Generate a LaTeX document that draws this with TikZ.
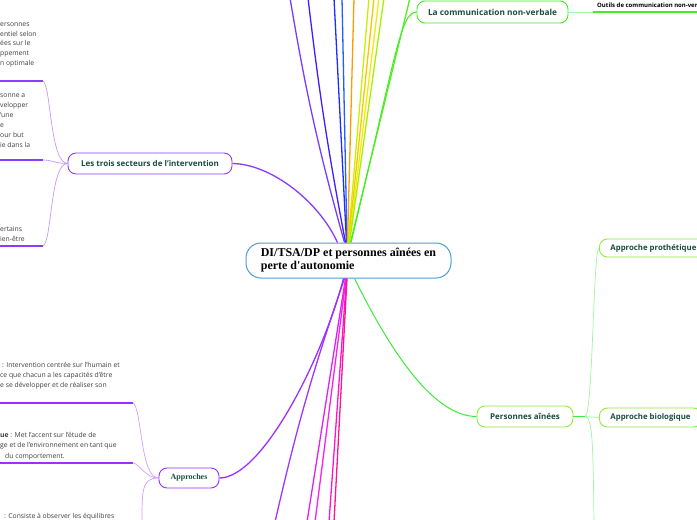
\documentclass[tikz,border=0pt]{standalone}
\usepackage{fontspec}
\setmainfont{Open Sans}
\newfontfamily\serifb{Liberation Serif}
\definecolor{cblue}{HTML}{4A9FDB}
\definecolor{labc}{HTML}{1B4D3E}
\definecolor{fragc}{HTML}{404040}
\definecolor{P1}{HTML}{8A3CFF}
\definecolor{P1l}{HTML}{C39BFF}
\definecolor{P2}{HTML}{9B30FF}
\definecolor{P2l}{HTML}{D49CFF}
\definecolor{GB}{HTML}{3CEB3C}
\definecolor{GY}{HTML}{8FEB3C}
\definecolor{GL}{HTML}{A0F5A0}
\definecolor{GC}{HTML}{44EE22}
\definecolor{T1}{HTML}{7A3DFF}
\definecolor{T2}{HTML}{3D1FFF}
\definecolor{T3}{HTML}{1F2BFF}
\definecolor{T4}{HTML}{1F5FFF}
\definecolor{T5}{HTML}{FF9A00}
\definecolor{T6}{HTML}{C8F000}
\definecolor{T7}{HTML}{FFC400}
\definecolor{T8}{HTML}{EEEE00}
\definecolor{T9}{HTML}{A8F000}
\definecolor{T10}{HTML}{55EE22}
\definecolor{B1}{HTML}{A035FF}
\definecolor{B2}{HTML}{E020F5}
\definecolor{B3}{HTML}{F522F0}
\definecolor{B4}{HTML}{FF14C8}
\definecolor{B5}{HTML}{FF1490}
\begin{document}
\begin{tikzpicture}[x=1pt,y=-1pt,
  lbl/.style={draw, rounded corners=8pt, fill=white, line width=0.9pt, text=labc, inner sep=0pt, font=\bfseries\fontsize{8}{9}\selectfont},
  frag/.style={anchor=base west, inner sep=0pt, text=fragc, font=\fontsize{6.8}{8}\selectfont},
  br/.style={line width=1.3pt},
  thinc/.style={line width=0.7pt},
  ul/.style={line width=1.8pt},
]
\useasboundingbox[fill=white] (0,0) rectangle (697,520);

% central node
\node[draw=cblue, line width=1pt, rounded corners=15pt, fill=white, align=left, inner sep=0pt,
      minimum width=205pt, minimum height=35pt, text=black,
      font=\serifb\bfseries\fontsize{12}{13}\selectfont] (c) at (348.5,260.5)
      {DI/TSA/DP et personnes aînées en\\perte d'autonomie};

% main topic nodes
\node[lbl, draw=P1, minimum width=164pt, minimum height=21pt] (lt) at (150,163.5) {Les trois secteurs de l'intervention};
\node[lbl, draw=GC, minimum width=151pt, minimum height=22pt, font=\bfseries\fontsize{8.3}{9}\selectfont] (lc) at (492.5,12) {La communication non-verbale};
\node[lbl, draw=P2, minimum width=60pt, minimum height=20pt, font=\serifb\bfseries\fontsize{8}{9}\selectfont] (ap) at (189,478) {Approches};
\node[lbl, draw=GY, minimum width=96pt, minimum height=21pt] (pa) at (525,416.5) {Personnes aînées};
\node[lbl, draw=GY, anchor=west, inner xsep=11pt, minimum height=18pt, font=\bfseries\fontsize{7.8}{9}\selectfont] (pp) at (599,248) {Approche prothétique};
\node[lbl, draw=GY, anchor=west, inner xsep=11pt, minimum height=19pt, font=\bfseries\fontsize{7.8}{9}\selectfont] (pb) at (599,417.5) {Approche biologique};
\node[anchor=base west, inner sep=0pt, font=\bfseries\fontsize{6}{7}\selectfont] (ou) at (597,7.5) {Outils de communication non-verbale};

% free ends
\coordinate (t1) at (290,-2);  \coordinate (t2) at (308,-2);
\coordinate (t3) at (334,-2);  \coordinate (t4) at (342,-2);
\coordinate (t5) at (354,-2);  \coordinate (t6) at (369,-2);
\coordinate (t7) at (374,-2);  \coordinate (t8) at (379,-2);
\coordinate (t9) at (384,-2);  \coordinate (t10) at (410,-2);
\coordinate (b1) at (275,522); \coordinate (b2) at (307,522);
\coordinate (b3) at (315,522); \coordinate (b4) at (329,522);
\coordinate (b5) at (334,522);

% top branches
\draw[br, T1] ([xshift=-4pt]c.north) to[bend left=3] (t1);
\draw[br, T2] ([xshift=-3pt]c.north) to[bend left=2] (t2);
\draw[br, T3] ([xshift=-2pt]c.north) -- (t3);
\draw[br, T4] ([xshift=-1.5pt]c.north) -- (t4);
\draw[br, T5] ([xshift=-1pt]c.north) -- (t5);
\draw[br, T6] ([xshift=-0.5pt]c.north) -- (t6);
\draw[br, T7] (c.north) -- (t7);
\draw[br, T8] ([xshift=0.5pt]c.north) -- (t8);
\draw[br, T9] ([xshift=1pt]c.north) -- (t9);
\draw[br, T10] ([xshift=2pt]c.north) -- (t10);
\draw[line width=1pt, GC] ([xshift=2.5pt]c.north) .. controls (395,60) and (400,12) .. (lc.west);

% bottom branches
\draw[br, B1] ([xshift=-4pt]c.south) to[bend right=3] (b1);
\draw[br, B2] ([xshift=-3pt]c.south) -- (b2);
\draw[br, B3] ([xshift=-2.5pt]c.south) -- (b3);
\draw[br, B4] ([xshift=-2pt]c.south) -- (b4);
\draw[br, B5] ([xshift=-1.5pt]c.south) -- (b5);

% curved topic branches
\draw[br, P1] ([xshift=-11pt]c.north) .. controls (318,200) and (270,164) .. (lt.east);
\draw[br, P2] ([xshift=-5pt]c.south) .. controls (322,360) and (262,478) .. (ap.east);
\draw[line width=1pt, GB] ([xshift=6pt]c.south) .. controls (385,340) and (430,416.5) .. (pa.west);

% --- Les trois secteurs children
\coordinate (u1) at (43,81);   \coordinate (u1l) at (-3,81);
\coordinate (u2) at (43,160);  \coordinate (u2l) at (-3,160);
\coordinate (u3) at (43,246);  \coordinate (u3l) at (-3,246);
\draw[ul, P1] (u1l) -- (u1);
\draw[ul, P1] (u2l) -- (u2);
\draw[ul, P1] (u3l) -- (u3);
\draw[thinc, P1l] (lt.west) .. controls (50,163.5) and (51,85) .. (u1);
\draw[thinc, P1l] (lt.west) .. controls (56,163.5) and (52,160) .. (u2);
\draw[thinc, P1l] (lt.west) .. controls (50,163.5) and (52,242) .. (u3);

% --- Approches children
\coordinate (u4) at (133,403); \coordinate (u4l) at (-3,403);
\coordinate (u5) at (133,463); \coordinate (u5l) at (-3,463);
\coordinate (d6) at (142,522);
\draw[ul, P2] (u4l) -- (u4);
\draw[ul, P2] (u5l) -- (u5);
\draw[thinc, P2l] (ap.west) .. controls (140,478) and (142,408) .. (u4);
\draw[thinc, P2l] (ap.west) .. controls (145,478) and (140,464) .. (u5);
\draw[thinc, P2l] (ap.west) .. controls (142,478) and (142,490) .. (d6);

% --- Personnes aînées children
\coordinate (pt) at (585,416.5);
\coordinate (d7) at (594,522);
\draw[ul, GB] (pa.east) -- (pt);
\draw[thinc, GL] (pt) .. controls (593,416.5) and (593,250) .. (pp.west);
\draw[thinc, GL] (pt) -- (pb.west);
\draw[thinc, GL] (pt) .. controls (593,416.5) and (593,450) .. (d7);

% --- La communication child
\coordinate (u8) at (593,12); \coordinate (u8r) at (700,12);
\draw[thinc, GL] (lc.east) -- (u8);
\draw[ul, GC] (u8) -- (u8r);

% --- text fragments cut at the left edge
\foreach \x/\y/\t [count=\i] in {
  0/26/ersonnes, 0/36/entiel selon, 0/45.5/ées sur le, 0/55.5/ppement, 0/65/n optimale,
  0/97/sonne a, 0/107/velopper, 0/117/'une, 0/127/e, 0/137/our but, 0/147/ie dans la,
  0/231/ertains, 0/241/ien-être,
  2/367/: Intervention centrée sur l'humain et, 0/377/ce que chacun a les capacités d'être, 0/387.5/e se développer et de réaliser son,
  0/437/{{\bfseries ue} : Met l'accent sur l'étude de}, 0/447.5/ge et de l'environnement en tant que, 5/458/du comportement.,
  4/518/: Consiste à observer les équilibres}
  \node[frag] (f\i) at (\x,\y) {\t};

\end{tikzpicture}
\end{document}
